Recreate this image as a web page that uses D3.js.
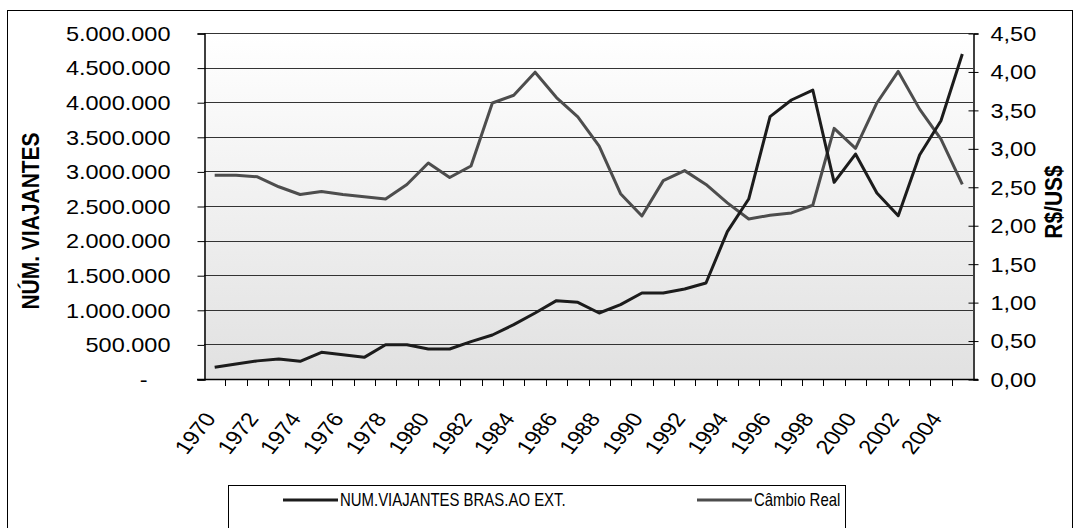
<!DOCTYPE html>
<html>
<head>
<meta charset="utf-8">
<script src="https://cdn.jsdelivr.net/npm/d3@7"></script>
<style>
	html, body { margin: 0; padding: 0; background: #fff; }
	#outer { width: 1074px; height: 528px; }
	text { font-family: 'Liberation Sans', Arial, sans-serif; fill: #000; }
</style>
</head>
<body>
<div id="outer"></div>
<script>

////////// DATA //////////
const years = [1970, 1971, 1972, 1973, 1974, 1975, 1976, 1977, 1978, 1979,
	1980, 1981, 1982, 1983, 1984, 1985, 1986, 1987, 1988, 1989,
	1990, 1991, 1992, 1993, 1994, 1995, 1996, 1997, 1998, 1999,
	2000, 2001, 2002, 2003, 2004, 2005];
const yearLabels = [1970, 1972, 1974, 1976, 1978, 1980, 1982, 1984, 1986, 1988,
	1990, 1992, 1994, 1996, 1998, 2000, 2002, 2004];
const viajantes = [168600, 216800, 262000, 289000, 255000, 385000, 352000, 313000, 496000, 496000,
	434000, 434000, 540000, 636000, 785000, 954000, 1132000, 1108000, 954000, 1074000,
	1243000, 1243000, 1301000, 1387000, 2129000, 2601000, 3791000, 4032000, 4176000, 2842000,
	3251000, 2688000, 2360000, 3237000, 3733000, 4697000];
const cambio = [2.65, 2.65, 2.63, 2.50, 2.40, 2.44, 2.40, 2.37, 2.34, 2.53,
	2.81, 2.62, 2.77, 3.59, 3.69, 3.99, 3.66, 3.41, 3.03, 2.41,
	2.12, 2.58, 2.71, 2.53, 2.29, 2.08, 2.13, 2.16, 2.26, 3.26,
	3.00, 3.59, 4.00, 3.51, 3.12, 2.53];
const leftTicks = [0, 500000, 1000000, 1500000, 2000000, 2500000, 3000000, 3500000, 4000000, 4500000, 5000000];
const rightTicks = [0, 0.5, 1, 1.5, 2, 2.5, 3, 3.5, 4, 4.5];
const seriesNames = ['NUM.VIAJANTES BRAS.AO EXT.', 'Câmbio Real'];


function drawChart () {

	////////// Hard Coded Defs //////////
	const width = 1074, height = 528;
	const plot = { left: 204, right: 973, top: 33, bottom: 379 };
	const sx = 1.176;	// the original picture is stretched sideways
	const tickFont = 20;
	const titleFont = 21;
	const blackLine = '#1c1c1c';
	const grayLine = '#4d4d4d';
	const gridColor = '#333';

	const fmtLeft = d => d === 0 ? '-' : d3.format(',')(d).replace(/,/g, '.');
	const fmtRight = d => d3.format('.2f')(d).replace('.', ',');


	////////////////////////////////////////////////////////////////
		// SCALES
	////////////////////////////////////////////////////////////////
	const x = d3.scaleBand().domain(years).range([plot.left, plot.right]);
	const cx = d => x(d) + x.bandwidth() / 2;
	const yL = d3.scaleLinear().domain([0, 5000000]).range([plot.bottom, plot.top]);
	const yR = d3.scaleLinear().domain([0, 4.5]).range([plot.bottom, plot.top]);


	////////////////////////////////////////////////////////////////
		// SVG + BACKGROUND
	////////////////////////////////////////////////////////////////
	const svg = d3.select('#outer').append('svg')
		.attr('width', width)
		.attr('height', height);

	const defs = svg.append('defs');
	const grad = defs.append('linearGradient')
		.attr('id', 'plotGrad')
		.attr('x1', 0).attr('y1', 0).attr('x2', 0).attr('y2', 1);
	grad.append('stop').attr('offset', '0%').attr('stop-color', '#ffffff');
	grad.append('stop').attr('offset', '100%').attr('stop-color', '#e1e1e1');

	// outer frame
	svg.append('rect')
		.attr('x', 7.5).attr('y', 10.5)
		.attr('width', 1065).attr('height', 530)
		.attr('fill', '#fff')
		.attr('stroke', '#000');

	svg.append('rect')
		.attr('x', plot.left).attr('y', plot.top)
		.attr('width', plot.right - plot.left)
		.attr('height', plot.bottom - plot.top)
		.attr('fill', 'url(#plotGrad)');

	// gridlines
	svg.append('g').attr('class', 'grid')
		.selectAll('line')
		.data(leftTicks.filter(d => d > 0))
		.join('line')
		.attr('x1', plot.left).attr('x2', plot.right)
		.attr('y1', d => Math.round(yL(d)) + 0.5)
		.attr('y2', d => Math.round(yL(d)) + 0.5)
		.attr('stroke', gridColor);


	////////////////////////////////////////////////////////////////
		// AXES
	////////////////////////////////////////////////////////////////
	const leftAxis = svg.append('g')
		.attr('transform', `translate(${plot.left + 0.5}, 0.5)`)
		.call(d3.axisLeft(yL).tickValues(leftTicks).tickSize(7).tickFormat(fmtLeft));
	leftAxis.select('.domain').attr('stroke', '#000').attr('stroke-width', 1.5);
	leftAxis.selectAll('.tick text')
		.attr('x', null).attr('dy', null)
		.attr('dominant-baseline', 'central')
		.attr('text-anchor', 'end')
		.style('font-size', tickFont + 'px')
		.attr('transform', d => `translate(${d === 0 ? -57 : -34}, 0) scale(${sx}, 1)`);

	const rightAxis = svg.append('g')
		.attr('transform', `translate(${plot.right + 0.5}, 0.5)`)
		.call(d3.axisRight(yR).tickValues(rightTicks).tickSize(5).tickFormat(fmtRight));
	rightAxis.select('.domain').attr('stroke', '#000').attr('stroke-width', 1.5);
	rightAxis.selectAll('.tick line').attr('x1', -5).attr('x2', 5);
	rightAxis.selectAll('.tick text')
		.attr('x', null).attr('dy', null)
		.attr('dominant-baseline', 'central')
		.attr('text-anchor', 'start')
		.style('font-size', tickFont + 'px')
		.attr('transform', `translate(17, 0) scale(${sx}, 1)`);

	// bottom axis: ticks sit on category borders
	const bottom = svg.append('g').attr('class', 'xAxis');
	bottom.append('line')
		.attr('x1', plot.left - 7).attr('x2', plot.right + 5)
		.attr('y1', plot.bottom + 0.5).attr('y2', plot.bottom + 0.5)
		.attr('stroke', '#000').attr('stroke-width', 1.5);
	bottom.selectAll('line.tk')
		.data(years.slice(1))
		.join('line')
		.attr('class', 'tk')
		.attr('x1', d => Math.round(x(d)) + 0.5).attr('x2', d => Math.round(x(d)) + 0.5)
		.attr('y1', plot.bottom).attr('y2', plot.bottom + 7)
		.attr('stroke', '#000');
	bottom.selectAll('text')
		.data(yearLabels)
		.join('text')
		.attr('text-anchor', 'end')
		.style('font-size', tickFont + 'px')
		.attr('transform', d => `translate(${cx(d) + 2}, ${plot.bottom + 40}) scale(${sx}, 1) rotate(-55)`)
		.text(d => d);


	////////////////////////////////////////////////////////////////
		// AXIS TITLES
	////////////////////////////////////////////////////////////////
	svg.append('text')
		.attr('text-anchor', 'middle')
		.style('font-size', titleFont + 'px')
		.style('font-weight', 'bold')
		.attr('transform', `translate(39, 221) scale(${sx}, 1) rotate(-90)`)
		.text('NÚM. VIAJANTES');

	svg.append('text')
		.attr('text-anchor', 'middle')
		.style('font-size', titleFont + 'px')
		.style('font-weight', 'bold')
		.attr('transform', `translate(1062, 202) scale(${sx}, 1) rotate(-90)`)
		.text('R$/US$');


	////////////////////////////////////////////////////////////////
		// LINES
	////////////////////////////////////////////////////////////////
	const lineL = d3.line().x((d, i) => cx(years[i])).y(d => yL(d));
	const lineR = d3.line().x((d, i) => cx(years[i])).y(d => yR(d));

	svg.append('path')
		.datum(cambio)
		.attr('d', lineR)
		.attr('fill', 'none')
		.attr('stroke', grayLine)
		.attr('stroke-width', 3)
		.attr('stroke-linejoin', 'round');

	svg.append('path')
		.datum(viajantes)
		.attr('d', lineL)
		.attr('fill', 'none')
		.attr('stroke', blackLine)
		.attr('stroke-width', 3)
		.attr('stroke-linejoin', 'round');


	////////////////////////////////////////////////////////////////
		// LEGEND
	////////////////////////////////////////////////////////////////
	const legend = svg.append('g').attr('class', 'legend');
	legend.append('rect')
		.attr('x', 228.5).attr('y', 485.5)
		.attr('width', 617).attr('height', 60)
		.attr('fill', '#fff')
		.attr('stroke', '#000');

	const items = [
		{ name: seriesNames[0], color: blackLine, x: 283 },
		{ name: seriesNames[1], color: grayLine, x: 697 }
	];
	const item = legend.selectAll('g.item')
		.data(items)
		.join('g')
		.attr('class', 'item')
		.attr('transform', d => `translate(${d.x}, 500)`);
	item.append('line')
		.attr('x1', 0).attr('x2', 55)
		.attr('stroke', d => d.color)
		.attr('stroke-width', 3);
	item.append('text')
		.attr('dominant-baseline', 'central')
		.style('font-size', '18px')
		.attr('transform', 'translate(57, 0) scale(0.83, 1)')
		.text(d => d.name);
}

drawChart();
</script>
</body>
</html>
